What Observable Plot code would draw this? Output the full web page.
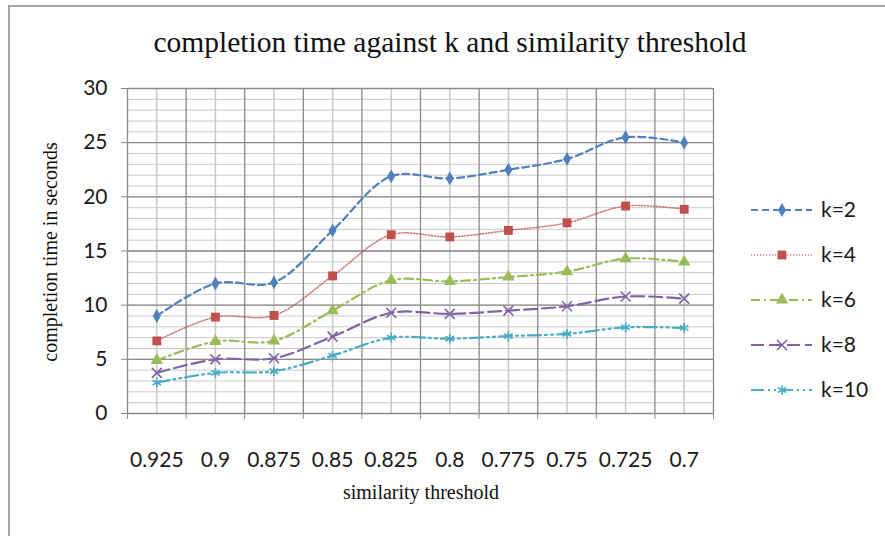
<!DOCTYPE html>
<html>
<head>
<meta charset="utf-8">
<script src="https://cdn.jsdelivr.net/npm/d3@7"></script>
<script src="https://cdn.jsdelivr.net/npm/@observablehq/plot@0.6"></script>
<style>
  html, body { margin: 0; padding: 0; background: #fff; }
  #wrap { position: relative; width: 885px; height: 536px; overflow: hidden; background: #fff; }
  #frame { position: absolute; left: 8px; top: 5px; width: 900px; height: 560px;
           border-left: 2px solid #a6a6a6; border-top: 2px solid #a6a6a6; }
  #chart, #overlay { position: absolute; left: 0; top: 0; }
</style>
</head>
<body>
<div id="wrap"><div id="frame"></div><div id="chart"></div><svg id="overlay" width="885" height="536"></svg></div>
<script>
// ---- data ----
const categories = ["0.925", "0.9", "0.875", "0.85", "0.825", "0.8", "0.775", "0.75", "0.725", "0.7"];
const seriesNames = ["k=2", "k=4", "k=6", "k=8", "k=10"];
const k2  = [9.0, 12.0, 12.1, 16.9, 21.9, 21.7, 22.5, 23.5, 25.5, 25.0];
const k4  = [6.7, 8.9, 9.05, 12.7, 16.5, 16.3, 16.9, 17.6, 19.15, 18.85];
const k6  = [4.9, 6.65, 6.7, 9.5, 12.3, 12.2, 12.6, 13.1, 14.3, 14.0];
const k8  = [3.75, 5.0, 5.1, 7.1, 9.3, 9.2, 9.5, 9.9, 10.8, 10.6];
const k10 = [2.85, 3.75, 3.9, 5.35, 7.0, 6.9, 7.15, 7.35, 7.95, 7.9];
const yTicks = [0, 5, 10, 15, 20, 25, 30];
const yMinorStep = 1;
const titleText = "completion time against k and similarity threshold";
const xTitle = "similarity threshold";
const yTitle = "completion time in seconds";

// ---- styles ----
const seriesStyles = [
  {color: "#4F81BD", dash: "7,4", width: 2.2, symbol: "diamond", r: 4.2, filled: true},
  {color: "#C0504D", dash: "1.2,1.8", width: 1.6, symbol: "square", r: 5.0, filled: true, opacity: 0.75},
  {color: "#9BBB59", dash: "9,4,2,4", width: 2.2, symbol: "triangle", r: 4.6, filled: true},
  {color: "#8064A2", dash: "13,5", width: 2.2, symbol: "times", r: 4.6, filled: false},
  {color: "#4BACC6", dash: "13,4,2,4,2,4", width: 2.2, symbol: "asterisk", r: 4.6, filled: false}
];
const seriesValues = [k2, k4, k6, k8, k10];

const rows = [];
seriesValues.forEach((vals, s) => vals.forEach((v, i) => rows.push({series: seriesNames[s], idx: i + 0.5, v})));

const n = categories.length;
const bandEdges = d3.range(0, n + 1);
const bandCenters = d3.range(0, n).map(i => i + 0.5);
const yMax = d3.max(yTicks);
const minorY = d3.range(0, yMax + yMinorStep / 2, yMinorStep);

const marks = [
  Plot.ruleY(minorY, {stroke: "#c9c9c9", strokeWidth: 1}),
  Plot.ruleX(bandCenters, {stroke: "#c9c9c9", strokeWidth: 1.5}),
  Plot.ruleY(yTicks, {stroke: "#8a8a8a", strokeWidth: 1.3}),
  Plot.ruleX(bandEdges, {stroke: "#8a8a8a", strokeWidth: 1.3}),
  Plot.axisY({ticks: yTicks, tickSize: 6, tickPadding: 14, stroke: "#8a8a8a", fontSize: 21, label: null}),
  Plot.axisX({ticks: bandEdges, tickSize: 6, tickFormat: () => "", stroke: "#8a8a8a", label: null}),
  Plot.axisX({ticks: bandCenters, tickSize: 0, tickPadding: 39, tickFormat: d => categories[Math.floor(d)], fontSize: 21, label: null})
];
seriesNames.forEach((name, s) => {
  const st = seriesStyles[s];
  const data = rows.filter(r => r.series === name);
  marks.push(Plot.line(data, {x: "idx", y: "v", stroke: st.color, strokeWidth: st.width,
    strokeDasharray: st.dash, strokeOpacity: st.opacity ?? 1, curve: "catmull-rom"}));
});
seriesNames.forEach((name, s) => {
  const st = seriesStyles[s];
  const data = rows.filter(r => r.series === name);
  marks.push(Plot.dot(data, st.filled
    ? {x: "idx", y: "v", symbol: () => st.symbol, r: st.r, fill: st.color, stroke: "none"}
    : {x: "idx", y: "v", symbol: () => st.symbol, r: st.r, stroke: st.color, strokeWidth: 1.6, fill: "none"}));
});

const chart = Plot.plot({
  width: 885,
  height: 536,
  marginLeft: 127,
  marginRight: 172,
  marginTop: 88,
  marginBottom: 123,
  x: {domain: [0, n], label: null},
  y: {domain: [0, yMax], label: null},
  style: {fontFamily: "Lato, 'Open Sans', sans-serif", fontSize: "21px", color: "#1a1a1a", background: "transparent"},
  marks
});
document.getElementById("chart").appendChild(chart);

// ---- overlay: title, axis titles, legend ----
const ov = d3.select("#overlay");
ov.append("text").attr("x", 450).attr("y", 52).attr("text-anchor", "middle")
  .attr("font-family", "'Liberation Serif', 'DejaVu Serif', serif").attr("font-size", 29.5).attr("fill", "#111")
  .text(titleText);
ov.append("text").attr("x", 421).attr("y", 499).attr("text-anchor", "middle")
  .attr("font-family", "'Liberation Serif', serif").attr("font-size", 20).attr("fill", "#111")
  .text(xTitle);
ov.append("text").attr("transform", "translate(57,252) rotate(-90)").attr("text-anchor", "middle")
  .attr("font-family", "'Liberation Serif', serif").attr("font-size", 20).attr("fill", "#111")
  .text(yTitle);

const symbolMap = {diamond: d3.symbolDiamond, square: d3.symbolSquare, triangle: d3.symbolTriangle,
                   times: d3.symbolTimes, asterisk: d3.symbolAsterisk};
const legendY = [210, 255, 300, 345, 390];
seriesNames.forEach((name, s) => {
  const st = seriesStyles[s];
  const g = ov.append("g").attr("transform", `translate(0,${legendY[s]})`);
  g.append("line").attr("x1", 751).attr("x2", 812).attr("y1", 0).attr("y2", 0)
    .attr("stroke", st.color).attr("stroke-width", st.width).attr("stroke-dasharray", st.dash)
    .attr("stroke-opacity", st.opacity ?? 1);
  const path = d3.symbol(symbolMap[st.symbol], Math.PI * st.r * st.r)();
  const p = g.append("path").attr("d", path).attr("transform", "translate(782,0)");
  if (st.filled) p.attr("fill", st.color); else p.attr("fill", "none").attr("stroke", st.color).attr("stroke-width", 1.6);
  g.append("text").attr("x", 821).attr("y", 0).attr("dy", "0.35em")
    .attr("font-family", "Lato, 'Open Sans', sans-serif").attr("font-size", 21).attr("fill", "#1a1a1a")
    .text(name);
});
</script>
</body>
</html>
